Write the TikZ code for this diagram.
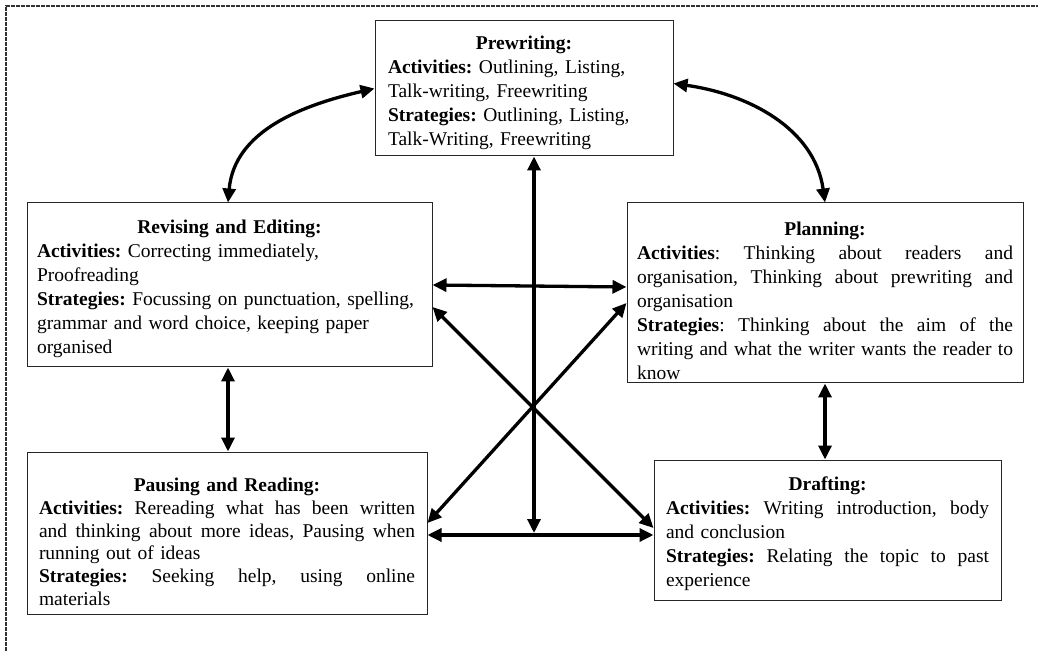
\documentclass[tikz,border=0pt]{standalone}
\usepackage{fontspec}
\setmainfont{Liberation Serif}
\usetikzlibrary{arrows.meta}
\setlength{\parindent}{0pt}
\frenchspacing
\newcommand{\jline}[2]{\makebox[#1][s]{\spaceskip=0.25em plus 3em minus 0.06em\xspaceskip=\spaceskip\relax #2}}
\newcommand{\tline}[2]{\makebox[#1][c]{\textbf{#2}}}
\newcommand{\topgap}[1]{\rule{0pt}{#1}}
\tikzset{
  stagebox/.style={draw=black!85, line width=1pt, fill=white, align=left,
    font=\fontsize{19.5}{24}\selectfont, inner ysep=4pt},
  dbl/.style={line width=3.3pt, {Triangle[length=14pt,width=13pt]}-{Triangle[length=14pt,width=13pt]}},
  framestyle/.style={draw=black!80, line width=1.3pt, dash pattern=on 4pt off 1pt}
}
\begin{document}
\begin{tikzpicture}[x=1pt,y=1pt]
\useasboundingbox (0,0) rectangle (1038,651);
\draw[framestyle] (6,0) -- (6,645) -- (1038,645);

\node[stagebox, inner xsep=13pt, text width=272pt, minimum width=298pt, minimum height=135pt] (pre) at (524,562.5) {%
\topgap{22pt}\tline{272pt}{Prewriting:}\\
\textbf{Activities:} Outlining, Listing,\\
Talk-writing, Freewriting\\
\textbf{Strategies:} Outlining, Listing,\\
Talk-Writing, Freewriting};

\node[stagebox, inner xsep=10pt, text width=385pt, minimum width=405pt, minimum height=164pt] (rev) at (229.5,366) {%
\topgap{22pt}\tline{385pt}{Revising and Editing:}\\
\textbf{Activities:} Correcting immediately,\\
Proofreading\\
\textbf{Strategies:} Focussing on punctuation, spelling,\\
grammar and word choice, keeping paper\\
organised};

\node[stagebox, inner xsep=10pt, inner ysep=1pt, text width=376pt, minimum width=396pt, minimum height=180pt] (pla) at (825,358) {%
\topgap{30pt}\tline{376pt}{Planning:}\\
\jline{376pt}{\textbf{Activities}: Thinking about readers and}\\
\jline{376pt}{organisation, Thinking about prewriting and}\\
organisation\\
\jline{376pt}{\textbf{Strategies}: Thinking about the aim of the}\\
\jline{376pt}{writing and what the writer wants the reader to}\\
know};

\node[stagebox, font=\fontsize{19.5}{22.8}\selectfont, inner xsep=12pt, text width=376pt, minimum width=400pt, minimum height=162pt] (pau) at (227,118) {%
\topgap{31pt}\tline{376pt}{Pausing and Reading:}\\
\jline{376pt}{\textbf{Activities:} Rereading what has been written}\\
\jline{376pt}{and thinking about more ideas, Pausing when}\\
running out of ideas\\
\jline{376pt}{\textbf{Strategies:} Seeking help, using online}\\
materials};

\node[stagebox, inner xsep=12pt, text width=323pt, minimum width=347pt, minimum height=140pt] (dra) at (827.5,121) {%
\topgap{22pt}\tline{323pt}{Drafting:}\\
\jline{323pt}{\textbf{Activities:} Writing introduction, body}\\
and conclusion\\
\jline{323pt}{\textbf{Strategies:} Relating the topic to past}\\
experience};

\coordinate (vend) at (534,118);

% curved arrows
\draw[dbl] ([xshift=-1.5pt]rev.north) to[out=85,in=193] (pre.west);
\draw[dbl] ([yshift=5pt]pre.east) to[out=-8,in=98] (pla.north);
% verticals
\draw[dbl] ([xshift=-1.5pt]rev.south) -- ([xshift=-1.5pt]rev.south |- pau.north);
\draw[dbl] (pla.south) -- (pla.south |- dra.north);
\draw[dbl] ([xshift=10pt]pre.south) -- (vend);
% horizontals
\draw[dbl] (rev.east) -- ([yshift=-2pt]rev.east -| pla.west);
\draw[dbl] ([yshift=-2pt]pau.east) -- ([yshift=-2pt]pau.east -| dra.west);
% diagonals
\draw[dbl] ([yshift=-22pt]rev.east) -- ([yshift=2pt]dra.west);
\draw[dbl] ([yshift=-10pt]pla.west) -- ([yshift=10pt]pau.east);
\end{tikzpicture}
\end{document}
